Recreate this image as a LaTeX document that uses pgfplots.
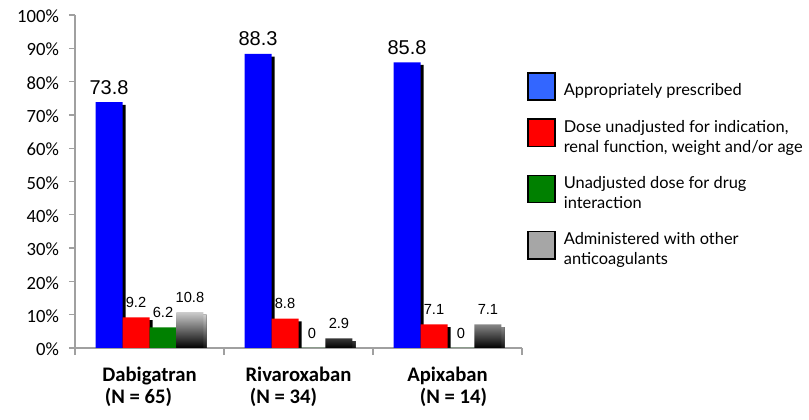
\documentclass[border=0pt]{standalone}
\usepackage{pgfplots}
\pgfplotsset{compat=1.18}
\usepackage{fontspec}
\setmainfont{Carlito}
\newfontfamily\arialf{Liberation Sans}
\newfontfamily\legf{Lato}
\usetikzlibrary{shadows}

\definecolor{axgray}{RGB}{160,160,160}
\definecolor{barblue}{RGB}{0,0,255}
\definecolor{legblue}{RGB}{51,102,255}
\definecolor{barred}{RGB}{255,0,0}
\definecolor{bargreen}{RGB}{0,128,0}
\definecolor{leggray}{RGB}{166,166,166}
\definecolor{shadetop}{RGB}{205,205,205}

\pgfplotsset{
  legpatch/.style={legend image code/.code={%
    \pgfsetfillcolor{#1}\pgfsetstrokecolor{black}\pgfsetlinewidth{1.2pt}%
    \pgfpathrectanglecorners{\pgfpoint{0pt}{-7pt}}{\pgfpoint{20.5pt}{13.5pt}}%
    \pgfusepath{fill,stroke}}},
  barshadow/.style={general shadow={fill=black, shadow xshift=2.4pt, shadow yshift=-2pt}},
}

\begin{document}
\begin{tikzpicture}
\path[use as bounding box] (-56.25pt,-54pt) rectangle (550.5pt,261pt);
\begin{axis}[
  scale only axis, width=335.25pt, height=249.75pt,
  at={(0pt,0pt)}, anchor=south west,
  ymin=0, ymax=100, xmin=-0.5, xmax=2.5,
  ybar=0pt, bar width=0.181,
  axis lines*=left,
  axis line style={draw=axgray, line width=1pt},
  /pgf/number format/assume math mode=true,
  ytick={0,10,...,100},
  yticklabel={\pgfmathprintnumber{\tick}\%},
  yticklabel style={font=\fontsize{14}{16}\selectfont, xshift=-4pt, yshift=-1pt},
  tick align=outside,
  major tick length=4.5pt,
  minor tick length=5.25pt,
  tick style={draw=axgray, line width=1pt},
  major x tick style={draw=none},
  xtick={0,1,2},
  minor xtick={-0.5,0.5,1.5,2.5},
  xticklabels={{Dabigatran\\\hspace*{-16.5pt}(N = 65)},{Rivaroxaban\\\hspace*{-22.5pt}(N = 34)},{Apixaban\\\hspace*{9pt}(N = 14)}},
  xticklabel style={align=center, font=\bfseries\fontsize{15.5}{17}\selectfont, yshift=-6pt},
  legend style={at={(1.011,0.829)}, anchor=north west, draw=none, fill=none,
    inner sep=0pt, outer sep=0pt, row sep=12.5pt, column sep=4pt,
    font=\legf\fontsize{12.3}{15}\selectfont, align=left},
  legend cell align=left,
  nodes near coords,
]
\addplot[fill=barblue, draw=none, barshadow, legpatch=legblue,
  nodes near coords style={font=\arialf\fontsize{15}{18}\selectfont, yshift=2.5pt}]
  coordinates {(0,73.8) (1,88.3) (2,85.8)};
\addplot[fill=barred, draw=none, barshadow, legpatch=barred,
  nodes near coords style={font=\arialf\fontsize{11}{13}\selectfont, yshift=3.8pt}]
  coordinates {(0,9.2) (1,8.8) (2,7.1)};
\addplot[fill=bargreen, draw=none, barshadow, legpatch=bargreen,
  nodes near coords style={font=\arialf\fontsize{11}{13}\selectfont, yshift=3.8pt}]
  coordinates {(0,6.2) (1,0) (2,0)};
\addplot[top color=shadetop, bottom color=black, draw=none, barshadow, legpatch=leggray,
  nodes near coords style={font=\arialf\fontsize{11}{13}\selectfont, yshift=3.8pt}]
  coordinates {(0,10.8) (1,2.9) (2,7.1)};
\addlegendentry{Appropriately prescribed}
\addlegendentry{Dose unadjusted for indication,\\renal function, weight and/or age}
\addlegendentry{Unadjusted dose for drug\\interaction}
\addlegendentry{Administered with other\\anticoagulants}
\end{axis}
\end{tikzpicture}
\end{document}
